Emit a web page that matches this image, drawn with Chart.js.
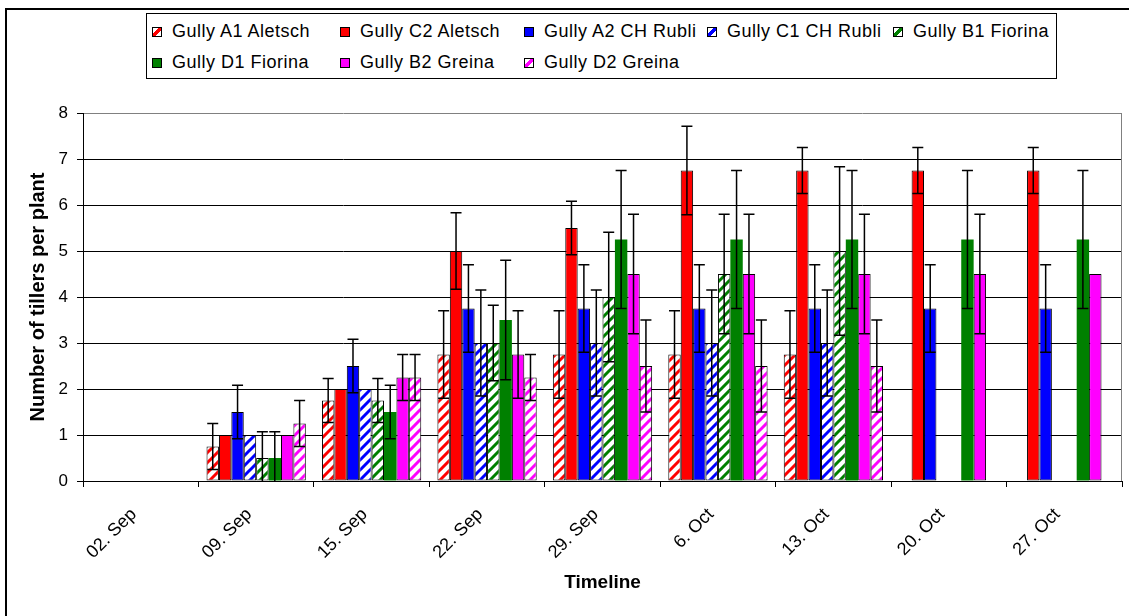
<!DOCTYPE html>
<html>
<head>
<meta charset="utf-8">
<title>Number of tillers per plant</title>
<script src="https://cdn.jsdelivr.net/npm/chart.js@4.4.1/dist/chart.umd.min.js"></script>
<style>
  body { margin: 0; background: #fff; }
  #wrap { position: relative; width: 1129px; height: 616px; overflow: hidden; background: #fff; }
  #frame { position: absolute; left: 5px; top: 8px; width: 1200px; height: 700px; border: 2px solid #000; }
  #plot { position: absolute; left: 0; top: 0; width: 1129px; height: 616px; }
  #legend {
    position: absolute; left: 146px; top: 13px; width: 911px; height: 66px;
    box-sizing: border-box; border: 1px solid #000; background: #fff;
    display: grid; grid-template-columns: 188px 184px 183px 186px 1fr; grid-auto-rows: 31px;
    padding: 2px 0 0 5px;
    font: 18px "Liberation Sans", Arial, sans-serif; letter-spacing: 0.5px; color: #000;
  }
  .item { display: flex; align-items: center; white-space: nowrap; }
  .swatch { width: 10px; height: 10px; box-sizing: border-box; border: 1px solid #000; margin-right: 10px; flex: none; }
</style>
</head>
<body>
<div id="wrap">
  <div id="frame"></div>
  <div id="plot"><canvas id="tillers-chart"></canvas></div>
  <div id="legend"></div>
</div>
<script>
// 日期
const categories = ['02. Sep', '09. Sep', '15. Sep', '22. Sep', '29. Sep', '6. Oct', '13. Oct', '20. Oct', '27. Oct'];

// 各小区平均分蘖数
const gullyA1Aletsch = [0, 0.75, 1.75, 2.75, 2.75, 2.75, 2.75, null, null];
const gullyC2Aletsch = [0, 1, 2, 5, 5.5, 6.75, 6.75, 6.75, 6.75];
const gullyA2Rubli   = [0, 1.5, 2.5, 3.75, 3.75, 3.75, 3.75, 3.75, 3.75];
const gullyC1Rubli   = [0, 1, 2, 3, 3, 3, 3, null, null];
const gullyB1Fiorina = [0, 0.5, 1.75, 3, 4, 4.5, 5, null, null];
const gullyD1Fiorina = [0, 0.5, 1.5, 3.5, 5.25, 5.25, 5.25, 5.25, 5.25];
const gullyB2Greina  = [0, 1, 2.25, 2.75, 4.5, 4.5, 4.5, 4.5, 4.5];
const gullyD2Greina  = [0, 1.25, 2.25, 2.25, 2.5, 2.5, 2.5, null, null];

// 误差 (±)
const errA1Aletsch = [0, 0.5, 0.48, 0.95, 0.95, 0.95, 0.95, null, null];
const errC2Aletsch = [0, 0, 0, 0.83, 0.58, 0.96, 0.5, 0.5, 0.5];
const errA2Rubli   = [0, 0.58, 0.58, 0.95, 0.95, 0.95, 0.95, 0.95, 0.95];
const errC1Rubli   = [0, 0, 0, 1.15, 1.15, 1.15, 1.15, null, null];
const errB1Fiorina = [0, 0.57, 0.48, 0.82, 1.41, 1.3, 1.83, null, null];
const errD1Fiorina = [0, 0.57, 0.58, 1.3, 1.5, 1.5, 1.5, 1.5, 1.5];
const errB2Greina  = [0, 0, 0.5, 0.95, 1.3, 1.3, 1.3, 1.3, 0];
const errD2Greina  = [0, 0.5, 0.5, 0.5, 1.0, 1.0, 1.0, null, null];

const yTicks = [0, 1, 2, 3, 4, 5, 6, 7, 8];

// 斜线填充
function makeHatch(color) {
  const c = document.createElement('canvas');
  c.width = 10;
  c.height = 10;
  const g = c.getContext('2d');
  g.fillStyle = '#fff';
  g.fillRect(0, 0, 10, 10);
  g.strokeStyle = color;
  g.lineWidth = 3;
  g.beginPath();
  g.moveTo(-5, 5); g.lineTo(5, -5);
  g.moveTo(0, 10); g.lineTo(10, 0);
  g.moveTo(5, 15); g.lineTo(15, 5);
  g.stroke();
  return g.createPattern(c, 'repeat');
}

function series(label, data, err, color, hatched, outlined = true) {
  return {
    label: label,
    data: data,
    err: err,
    swatchColor: color,
    hatched: hatched,
    backgroundColor: hatched ? makeHatch(color) : color,
    borderColor: '#000',
    borderWidth: outlined ? 1 : 0,
    borderSkipped: false
  };
}

const datasets = [
  series('Gully A1 Aletsch', gullyA1Aletsch, errA1Aletsch, '#ff0000', true),
  series('Gully C2 Aletsch', gullyC2Aletsch, errC2Aletsch, '#ff0000', false),
  series('Gully A2 CH Rubli', gullyA2Rubli, errA2Rubli, '#0000ff', false),
  series('Gully C1 CH Rubli', gullyC1Rubli, errC1Rubli, '#0000ff', true),
  series('Gully B1 Fiorina', gullyB1Fiorina, errB1Fiorina, '#008000', true),
  series('Gully D1 Fiorina', gullyD1Fiorina, errD1Fiorina, '#008000', false, false),
  series('Gully B2 Greina', gullyB2Greina, errB2Greina, '#ff00ff', false),
  series('Gully D2 Greina', gullyD2Greina, errD2Greina, '#ff00ff', true)
];

// 误差线
const errorBars = {
  id: 'errorBars',
  afterDatasetsDraw(chart) {
    const { ctx, scales: { y } } = chart;
    ctx.save();
    ctx.strokeStyle = '#000';
    ctx.lineWidth = 1.5;
    chart.data.datasets.forEach((ds, i) => {
      const meta = chart.getDatasetMeta(i);
      ds.err.forEach((e, j) => {
        const v = ds.data[j];
        if (v == null || !e) return;
        const x = meta.data[j].x;
        const top = y.getPixelForValue(v + e);
        const low = Math.max(0, v - e);
        const bot = y.getPixelForValue(low);
        ctx.beginPath();
        ctx.moveTo(x, top);
        ctx.lineTo(x, bot);
        ctx.moveTo(x - 5.5, top);
        ctx.lineTo(x + 5.5, top);
        if (low > 0) {
          ctx.moveTo(x - 5.5, bot);
          ctx.lineTo(x + 5.5, bot);
        }
        ctx.stroke();
      });
    });
    ctx.restore();
  }
};

// 绘图区右边框
const plotFrame = {
  id: 'plotFrame',
  beforeDatasetsDraw(chart) {
    const { ctx, chartArea } = chart;
    ctx.save();
    ctx.strokeStyle = '#808080';
    ctx.lineWidth = 1;
    ctx.beginPath();
    ctx.moveTo(Math.round(chartArea.right) - 0.5, chartArea.top);
    ctx.lineTo(Math.round(chartArea.right) - 0.5, chartArea.bottom);
    ctx.stroke();
    ctx.restore();
  }
};

Chart.defaults.font.family = '"Liberation Sans", Arial, sans-serif';
Chart.defaults.color = '#000';

const chart = new Chart(document.getElementById('tillers-chart'), {
  type: 'bar',
  data: { labels: categories, datasets: datasets },
  options: {
    responsive: true,
    maintainAspectRatio: false,
    animation: false,
    categoryPercentage: 0.86,
    barPercentage: 1,
    layout: { padding: { top: 113, right: 7, left: 0, bottom: 0 } },
    plugins: {
      legend: { display: false },
      tooltip: { enabled: false }
    },
    scales: {
      x: {
        grid: { drawOnChartArea: false, color: '#000', tickLength: 6, offset: true },
        border: { color: '#000', width: 1 },
        ticks: { minRotation: 45, maxRotation: 45, autoSkip: false, padding: 17, labelOffset: -7, font: { size: 18 } },
        title: {
          display: true,
          text: 'Timeline',
          font: { size: 19, weight: 'bold' },
          padding: { top: 0, bottom: 22 }
        },
        afterFit(scale) { scale.height = 135; }
      },
      y: {
        min: 0,
        max: 8,
        afterBuildTicks(scale) { scale.ticks = yTicks.map(v => ({ value: v })); },
        ticks: { padding: 9, font: { size: 17 } },
        grid: {
          color: c => (c.tick && c.tick.value === 8 ? '#808080' : '#000'),
          tickColor: '#000',
          tickLength: 6
        },
        border: { color: '#000', width: 1 },
        title: {
          display: true,
          text: 'Number of tillers per plant',
          font: { size: 20, weight: 'bold' },
          padding: { top: 26, bottom: 0 }
        },
        afterFit(scale) { scale.width = 83; }
      }
    }
  },
  plugins: [errorBars, plotFrame]
});

// 图例
function renderLegend() {
  const box = document.getElementById('legend');
  box.innerHTML = chart.data.datasets.map(ds => {
    const fill = ds.hatched
      ? `linear-gradient(135deg, #fff 33%, ${ds.swatchColor} 33%, ${ds.swatchColor} 67%, #fff 67%)`
      : ds.swatchColor;
    return `
      <div class="item">
        <span class="swatch" style="background: ${fill};"></span>
        <span>${ds.label}</span>
      </div>
    `;
  }).join('');
}

renderLegend();
</script>
</body>
</html>
